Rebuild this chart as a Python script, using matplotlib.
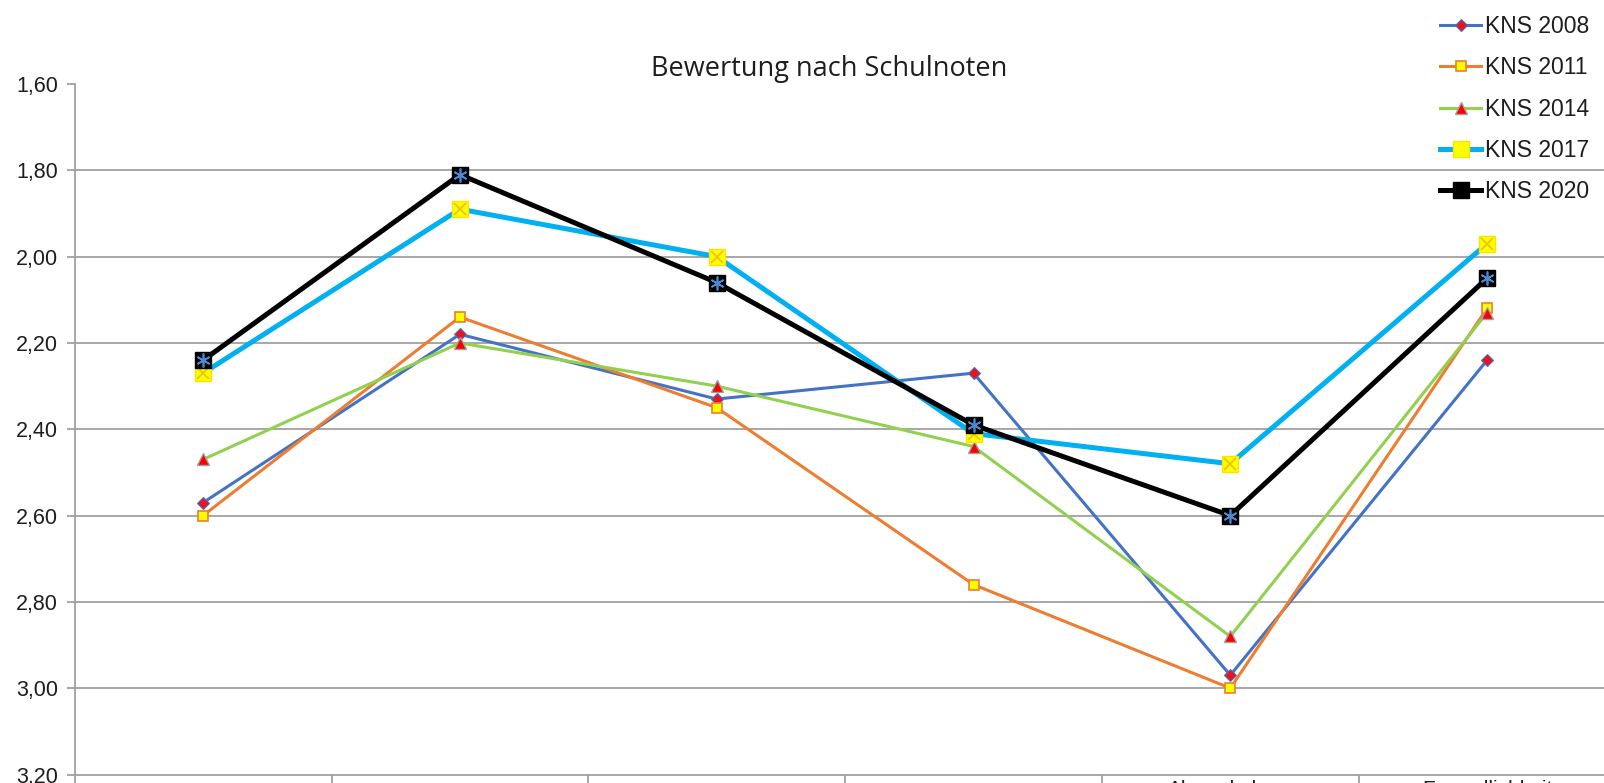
import matplotlib
matplotlib.use("Agg")
import matplotlib.pyplot as plt
from matplotlib.ticker import FixedLocator

categories = ["", "", "", "", "Abwechslung", "Freundlichkeit"]
series_names = ["KNS 2008", "KNS 2011", "KNS 2014", "KNS 2017", "KNS 2020"]
kns_2008 = [2.57, 2.18, 2.33, 2.27, 2.97, 2.24]
kns_2011 = [2.60, 2.14, 2.35, 2.76, 3.00, 2.12]
kns_2014 = [2.47, 2.20, 2.30, 2.44, 2.88, 2.13]
kns_2017 = [2.27, 1.89, 2.00, 2.41, 2.48, 1.97]
kns_2020 = [2.24, 1.81, 2.06, 2.39, 2.60, 2.05]
y_ticks = [1.60, 1.80, 2.00, 2.20, 2.40, 2.60, 2.80, 3.00, 3.20]

W, H = 1604, 783
fig = plt.figure(figsize=(W / 100, H / 100), dpi=100)
left = 74.7 / W
bottom = 1 - 774.5 / H
top = 1 - 84 / H
width = (6 * 256.8) / W
ax = fig.add_axes([left, bottom, width, top - bottom])

x = list(range(len(categories)))
grid_c = "#A0A0A0"

l1, = ax.plot(x, kns_2008, color="#4472C4", lw=2.2, marker="D", ms=6,
              mfc="#E8141E", mec="#4472C4", mew=0.8, zorder=3)
l2, = ax.plot(x, kns_2011, color="#ED7D31", lw=2.2, marker="s", ms=7,
              mfc="#FFFF00", mec="#ED7D31", mew=1.2, zorder=3)
l3, = ax.plot(x, kns_2014, color="#92D050", lw=2.2, marker="^", ms=8,
              mfc="#FF0000", mec="#A0A0A0", mew=1.0, zorder=3)
l4, = ax.plot(x, kns_2017, color="#00B0F0", lw=3.6, marker="s", ms=12,
              mfc="#FFFF00", mec="#FFE100", mew=1.0, zorder=4)
ax.plot(x, kns_2017, ls="none", marker="x", ms=9, mec="#F2C200", mew=1.3, zorder=4.1)
l5, = ax.plot(x, kns_2020, color="#000000", lw=3.6, marker="s", ms=11,
              mfc="#000000", mec="#000000", mew=1.0, zorder=5)
ax.plot(x, kns_2020, ls="none", marker=(6, 2, 0), ms=10, mec="#4A8BD6", mew=1.2, zorder=5.1)

ax.set_xlim(-0.5, len(categories) - 0.5)
ax.set_ylim(3.2, 1.6)
ax.set_yticks(y_ticks)
ax.set_yticklabels([f"{v:.2f}".replace(".", ",") for v in y_ticks],
                   fontsize=15.5, family="Liberation Sans", color="#1E1E1E")
ax.yaxis.grid(True, color=grid_c, lw=1.3)
ax.get_ygridlines()[0].set_visible(False)
ax.get_ygridlines()[-1].set_visible(False)
ax.set_axisbelow(True)

ax.set_xticks(x)
ax.set_xticklabels(categories, fontsize=15, family="Liberation Sans", color="#1E1E1E")
ax.xaxis.set_minor_locator(FixedLocator([i + 0.5 for i in range(-1, len(categories))]))
ax.tick_params(axis="x", which="major", length=0, pad=4)
ax.tick_params(axis="x", which="minor", length=12, width=1.3, color=grid_c)
ax.tick_params(axis="y", length=6, width=1.3, color=grid_c, pad=6)

for s in ["top", "right"]:
    ax.spines[s].set_visible(False)
for s in ["left", "bottom"]:
    ax.spines[s].set_color(grid_c)
    ax.spines[s].set_linewidth(1.3)

fig.text(829 / W, 1 - 69 / H, "Bewertung nach Schulnoten", ha="center", va="center",
         fontsize=19.5, family="Open Sans", color="#1E1E1E")

leg = fig.legend([l1, l2, l3, l4, l5], series_names, loc="upper right",
                 bbox_to_anchor=(1.0, 1.0), frameon=False,
                 prop={"family": "Liberation Sans", "size": 16.5},
                 handlelength=1.8, handletextpad=0.15, labelspacing=0.8,
                 borderaxespad=0.25, markerscale=1.0)
for t in leg.get_texts():
    t.set_color("#1E1E1E")

fig.savefig("out.png", dpi=100)
